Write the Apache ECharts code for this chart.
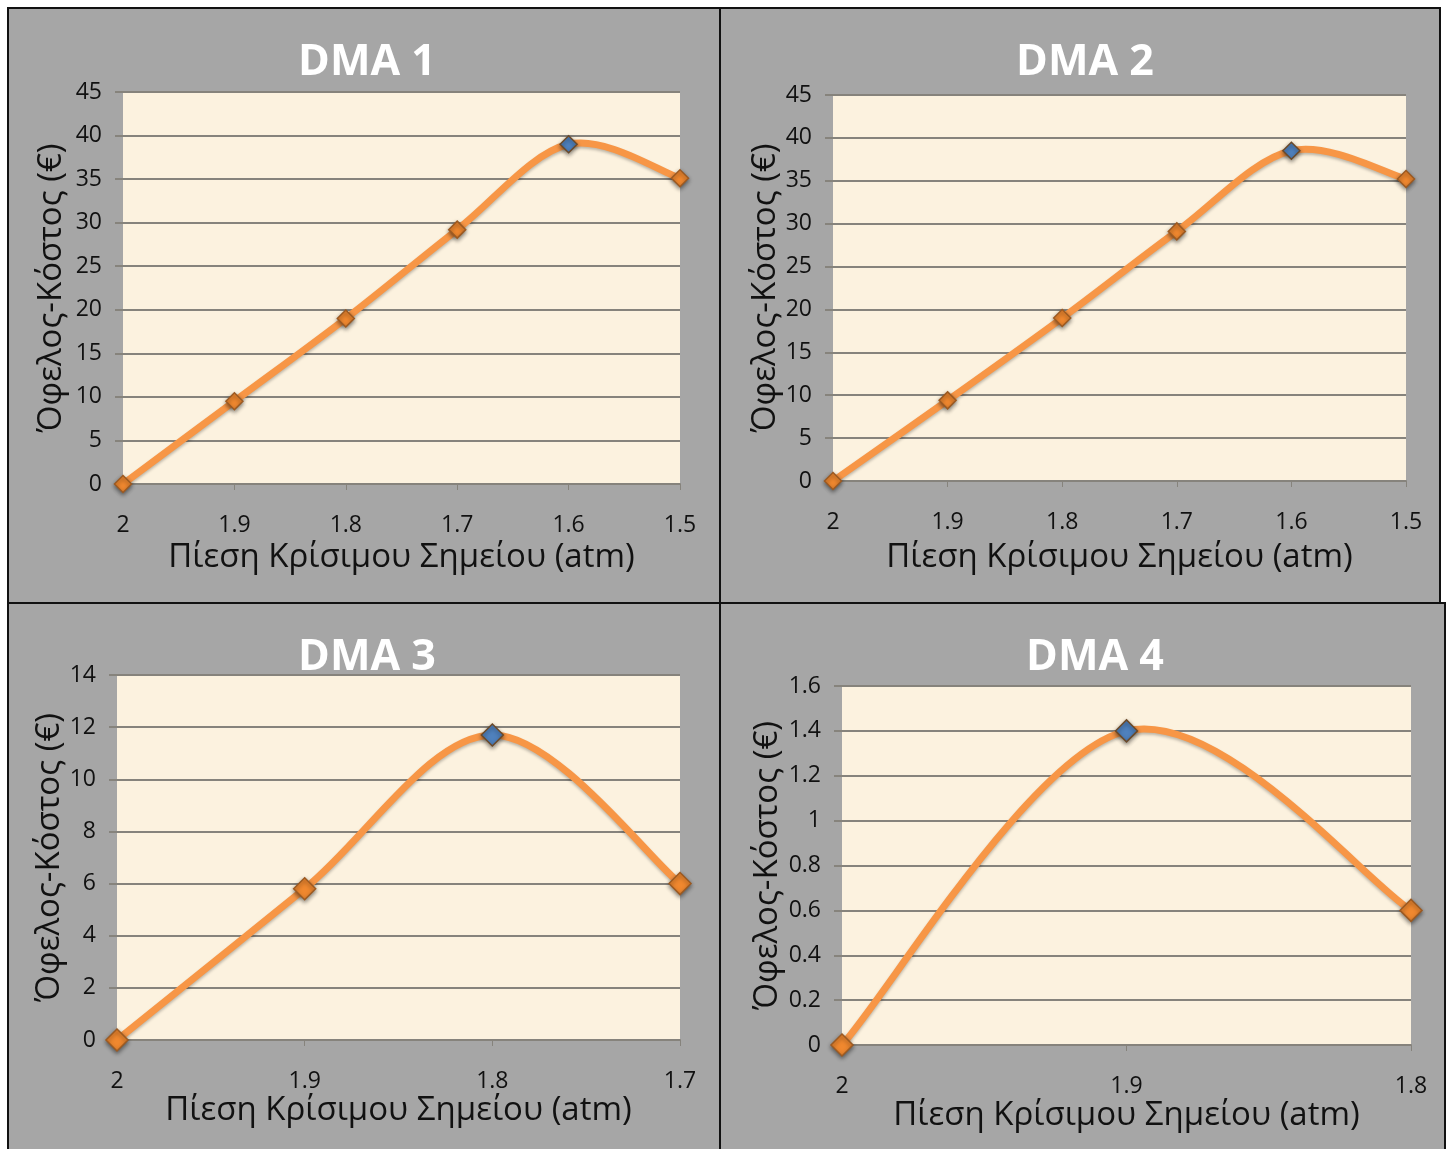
<!DOCTYPE html>
<html>
<head>
<meta charset="utf-8">
<script src="https://cdn.jsdelivr.net/npm/echarts@6/dist/echarts.min.js"></script>
<style>
  html, body { margin: 0; padding: 0; background: #ffffff; }
  #chart { width: 1451px; height: 1149px; }
</style>
</head>
<body>
<div id="chart"></div>
<script>
// ---- data ----
const panelTitles = ['DMA 1', 'DMA 2', 'DMA 3', 'DMA 4'];

const pressure1 = ['2', '1.9', '1.8', '1.7', '1.6', '1.5'];
const benefit1  = [0, 9.5, 19, 29.2, 39, 35.1];

const pressure2 = ['2', '1.9', '1.8', '1.7', '1.6', '1.5'];
const benefit2  = [0, 9.4, 19, 29.1, 38.5, 35.2];

const pressure3 = ['2', '1.9', '1.8', '1.7'];
const benefit3  = [0, 5.8, 11.7, 6];

const pressure4 = ['2', '1.9', '1.8'];
const benefit4  = [0, 1.4, 0.6];

const yMax  = [45, 45, 14, 1.6];
const yStep = [5, 5, 2, 0.2];

const xAxisTitle = 'Πίεση Κρίσιμου Σημείου (atm)';
const yAxisTitle = 'Όφελος-Κόστος (€)';

// ---- layout of the four panels (pixels) ----
const layout = [
  { box: [8, 8, 712, 595],     grid: { left: 123, top: 92,  width: 557, height: 392 }, titleAt: [367, 60],  xGap: 57, yGap: 55, marker: 17 },
  { box: [720, 8, 720, 595],   grid: { left: 833, top: 95,  width: 573, height: 386 }, titleAt: [1085, 60], xGap: 60, yGap: 48, marker: 17 },
  { box: [8, 603, 712, 560],   grid: { left: 117, top: 675, width: 563, height: 365 }, titleAt: [367, 655], xGap: 48, yGap: 41, marker: 22 },
  { box: [720, 603, 725, 560], grid: { left: 842, top: 686, width: 569, height: 359 }, titleAt: [1095, 655], xGap: 40, yGap: 58, marker: 22 }
];

const seriesData = [
  [pressure1, benefit1],
  [pressure2, benefit2],
  [pressure3, benefit3],
  [pressure4, benefit4]
];

const PANEL_BG = '#a6a6a6';
const PLOT_BG = '#fcf2df';
const GRID_COLOR = '#86837c';
const LINE_COLOR = '#f79646';
const MARK_COLOR = '#f0882f';
const PEAK_COLOR = '#4f81bd';
const FONT = '"Open Sans", "Noto Sans", sans-serif';

// Smooth curve through the points: cubic Bézier segments whose tangents
// follow the neighbouring points (Catmull-Rom style, tension 1/6).
function curveSegment(api, vals, i) {
  if (i >= vals.length - 1) return null;
  const clampIdx = j => Math.max(0, Math.min(vals.length - 1, j));
  const pt = j => api.coord([clampIdx(j), vals[clampIdx(j)]]);
  const p0 = pt(i - 1), p1 = pt(i), p2 = pt(i + 1), p3 = pt(i + 2);
  return {
    type: 'bezierCurve',
    shape: {
      x1: p1[0], y1: p1[1],
      cpx1: p1[0] + (p2[0] - p0[0]) / 6, cpy1: p1[1] + (p2[1] - p0[1]) / 6,
      cpx2: p2[0] - (p3[0] - p1[0]) / 6, cpy2: p2[1] - (p3[1] - p1[1]) / 6,
      x2: p2[0], y2: p2[1]
    },
    style: {
      fill: null, stroke: LINE_COLOR, lineWidth: 7, lineCap: 'round',
      shadowBlur: 3, shadowColor: 'rgba(0,0,0,0.25)', shadowOffsetY: 2
    }
  };
}

const chart = echarts.init(document.getElementById('chart'), null, { renderer: 'canvas' });

const graphics = [];
const titles = [];
const grids = [];
const xAxes = [];
const yAxes = [];
const series = [];

layout.forEach((p, i) => {
  const [bx, by, bw, bh] = p.box;
  graphics.push({
    type: 'rect', z: -10,
    shape: { x: bx, y: by, width: bw, height: bh },
    style: { fill: PANEL_BG, stroke: '#111111', lineWidth: 2 }
  });

  titles.push({
    text: panelTitles[i],
    left: p.titleAt[0], top: p.titleAt[1] - 19,
    textAlign: 'center', padding: 0,
    textStyle: { color: '#ffffff', fontSize: 43, fontWeight: 'bold', fontFamily: FONT }
  });

  grids.push(Object.assign({ show: true, backgroundColor: PLOT_BG, borderWidth: 0 }, p.grid));

  const [cats, vals] = seriesData[i];

  xAxes.push({
    type: 'category', gridIndex: i, data: cats, boundaryGap: false,
    name: xAxisTitle, nameLocation: 'middle', nameGap: p.xGap,
    nameTextStyle: { color: '#111', fontSize: 33, fontFamily: FONT },
    axisLine: { show: true, lineStyle: { color: GRID_COLOR, width: 2 } },
    axisTick: { show: true, length: 6, lineStyle: { color: GRID_COLOR, width: 1 } },
    axisLabel: { color: '#111', fontSize: 23, fontFamily: FONT, margin: 30 },
    splitLine: { show: false }
  });

  yAxes.push({
    type: 'value', gridIndex: i, min: 0, max: yMax[i], interval: yStep[i],
    name: yAxisTitle, nameLocation: 'middle', nameRotate: 90, nameGap: p.yGap,
    nameTextStyle: { color: '#111', fontSize: 33, fontFamily: FONT },
    axisLine: { show: false },
    axisTick: { show: true, length: 8, lineStyle: { color: GRID_COLOR, width: 2 } },
    axisLabel: { color: '#111', fontSize: 23, fontFamily: FONT, margin: 21 },
    splitLine: { show: true, lineStyle: { color: GRID_COLOR, width: 2 } }
  });

  // curve
  series.push({
    type: 'custom', xAxisIndex: i, yAxisIndex: i, z: 2,
    data: vals.map((v, k) => [k, v]),
    encode: { x: 0, y: 1 },
    renderItem: (params, api) => curveSegment(api, vals, params.dataIndex),
    animation: false, silent: true
  });

  // diamond markers, highest point in blue
  const peak = Math.max(...vals);
  series.push({
    type: 'line', xAxisIndex: i, yAxisIndex: i, z: 3,
    symbol: 'diamond', symbolSize: p.marker, showSymbol: true,
    lineStyle: { width: 0, opacity: 0 },
    itemStyle: { color: MARK_COLOR, borderColor: '#9c5a22', borderWidth: 1.5, shadowBlur: 4, shadowColor: 'rgba(0,0,0,0.45)', shadowOffsetY: 2 },
    data: vals.map(v => v === peak
      ? { value: v, itemStyle: { color: PEAK_COLOR, borderColor: '#6b4a2a' } }
      : v),
    animation: false
  });
});

chart.setOption({
  backgroundColor: '#ffffff',
  animation: false,
  graphic: graphics,
  title: titles,
  grid: grids,
  xAxis: xAxes,
  yAxis: yAxes,
  series: series
});
</script>
</body>
</html>
